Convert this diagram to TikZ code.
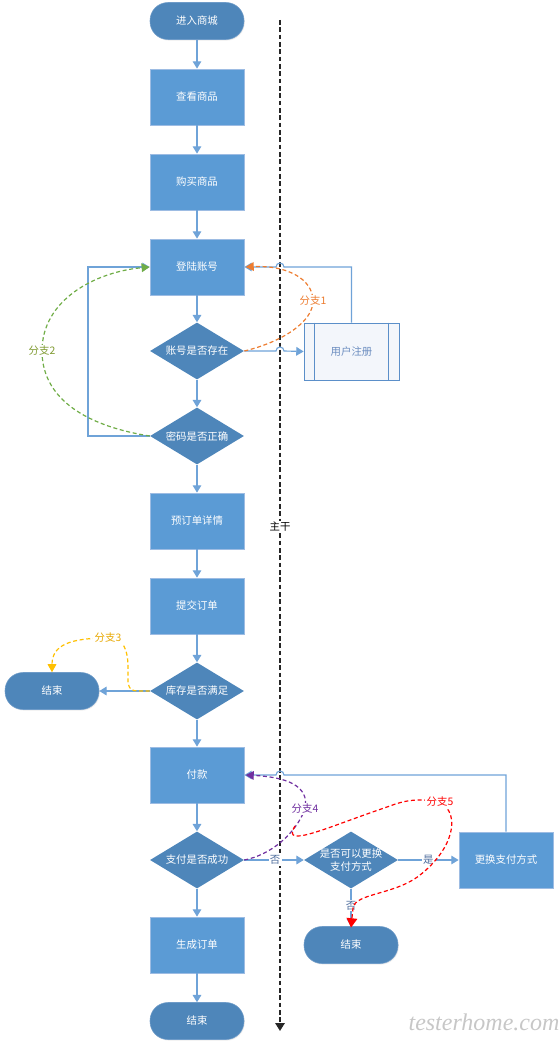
\documentclass[tikz,border=0pt]{standalone}
\usepackage{fontspec}
\setmainfont{Noto Sans CJK SC}
\newfontfamily\wmfont{Liberation Serif}
\usetikzlibrary{arrows.meta,shapes.geometric,shadows}
\definecolor{boxc}{HTML}{5B9BD5}
\definecolor{boxline}{HTML}{9DBCE3}
\definecolor{darkc}{HTML}{4E86BA}
\definecolor{darkline}{HTML}{6E9BC8}
\definecolor{linec}{HTML}{6FA3D8}
\definecolor{regtxt}{HTML}{6A8CBF}
\definecolor{regfill}{HTML}{F3F6FB}
\definecolor{regline}{HTML}{5B8FC9}
\definecolor{ylbl}{HTML}{4F6E9E}
\definecolor{c1}{HTML}{ED7D31}
\definecolor{c2}{HTML}{70AD47}
\definecolor{c2t}{HTML}{7F9A30}
\definecolor{c3}{HTML}{FFC000}
\definecolor{c3t}{HTML}{E8A800}
\definecolor{c4}{HTML}{7030A0}
\definecolor{c5}{HTML}{FF0000}
\tikzset{
  box/.style={rectangle, fill=boxc, draw=boxline, line width=0.6pt, minimum width=70.5pt, minimum height=42pt, text=white, inner sep=0pt,
    drop shadow={opacity=0.15, shadow xshift=0.6pt, shadow yshift=-0.8pt}},
  term/.style={rectangle, rounded corners=13.5pt, fill=darkc, draw=darkline, line width=0.4pt, minimum width=70.5pt, minimum height=27.75pt, text=white, inner sep=0pt,
    drop shadow={opacity=0.15, shadow xshift=0.6pt, shadow yshift=-0.8pt}},
  dia/.style={diamond, fill=darkc, minimum width=70.5pt, minimum height=42.75pt, inner sep=0pt},
  dtxt/.style={text=white, align=center, inner sep=0pt},
  flow/.style={draw=linec, line width=0.85pt, -{Triangle[width=6.5pt,length=5.5pt]}},
  brline/.style={line width=0.9pt, dash pattern=on 3pt off 2pt, -{Triangle[width=6.5pt,length=6pt]}},
  lbl/.style={fill=white, inner sep=1pt},
}
\begin{document}
\begin{tikzpicture}[x=0.75pt,y=-0.75pt, font=\fontsize{7.8}{9.5}\selectfont]
\useasboundingbox (0,0) rectangle (559,1048);

% main dashed line
\coordinate (mtop) at (280,20);
\coordinate (mbot) at (280,1031);
\draw[black!85, line width=1.5pt, dash pattern=on 3.5pt off 2pt, -{Triangle[width=7pt,length=6pt]}] (mtop) -- (mbot);

% nodes
\node[term] (n1) at (197,21) {进入商城};
\node[box] (n2) at (197,97) {查看商品};
\node[box] (n3) at (197,182) {购买商品};
\node[box] (n4) at (197,267) {登陆账号};
\node[dia] (d1) at (197,351) {};
\node[dtxt] at (d1) {账号是否存在};
\node[dia] (d2) at (197,436) {};
\node[dtxt] at (d2) {密码是否正确};
\node[box] (n5) at (197,521) {预订单详情};
\node[box] (n6) at (197,606) {提交订单};
\node[dia] (d3) at (197,691) {};
\node[dtxt] at (d3) {库存是否满足};
\node[term] (e1) at (52,691) {结束};
\node[box] (n7) at (197,775) {付款};
\node[dia] (d4) at (197,860) {};
\node[dtxt] at (d4) {支付是否成功};
\node[box] (n8) at (197,945) {生成订单};
\node[term] (e3) at (197,1021) {结束};

\node[rectangle, fill=regfill, draw=regline, line width=0.6pt, minimum width=71.25pt, minimum height=42.75pt, text=regtxt] (reg) at (351.5,351.5) {用户注册};
\draw[regline, line width=0.6pt] ([xshift=8.25pt]reg.north west) -- ([xshift=8.25pt]reg.south west)
  ([xshift=-8.25pt]reg.north east) -- ([xshift=-8.25pt]reg.south east);

\node[dia] (d5) at (351,860) {};
\node[dtxt] at (d5) {是否可以更换\\支付方式};
\node[box] (n9) at (506,860) {更换支付方式};
\node[term] (e2) at (351,945) {结束};

% flow connectors
\foreach \a/\b in {n1/n2, n2/n3, n3/n4, n4/d1, d1/d2, d2/n5, n5/n6, n6/d3, d3/n7, n7/d4, d4/n8, n8/e3}
  \draw[flow] (\a) -- (\b);
\draw[flow] (d3.west) -- (e1.east);
\draw[flow] (d2.west) -- (88,436) |- (n4.west);
\draw[flow] (d1.east) -- (276,351) arc[start angle=180, end angle=0, radius=3pt] -- (reg.west);
\draw[flow] (reg.north) |- (284,267) arc[start angle=0, end angle=180, radius=3pt] -- (n4.east);
\draw[flow] (d4.east) -- (d5.west) node[pos=0.52, lbl, text=ylbl] {否};
\draw[flow] (d5.east) -- (n9.west) node[pos=0.5, lbl, text=ylbl] {是};
\draw[flow] (d5.south) -- (e2.north) node[pos=0.45, lbl, text=ylbl] {否};
\draw[flow] (n9.north) |- (284,775) arc[start angle=0, end angle=180, radius=3pt] -- (n7.east);

% main label
\node[lbl, text=black] (mlbl) at (280,527) {主干};

% branches
\draw[brline, c1] (d1.east) .. controls (282,342) and (313,322) .. (313,301)
  node[lbl, text=c1] {分支1}
  .. controls (313,278) and (285,265) .. ([xshift=1pt]n4.east);
\draw[brline, c2] (d2.west) .. controls (80,425) and (42,395) .. (42,351)
  node[lbl, text=c2t] {分支2}
  .. controls (42,300) and (95,272) .. (n4.west);
\draw[brline, c3] (d3.west) -- (138,691) .. controls (126,691) and (128,682) .. (128,668)
  .. controls (128,650) and (124,638) .. (108,638)
  node[lbl, text=c3t] {分支3}
  .. controls (70,638) and (52,645) .. (e1.north);
\draw[brline, c4] (d4.east) .. controls (270,855) and (295,835) .. (305,809)
  node[lbl, text=c4] {分支4}
  .. controls (310,785) and (285,777) .. ([xshift=1pt]n7.east);
\coordinate (s5) at (295,826);
\draw[brline, c5, -{Triangle[width=8pt,length=7pt]}] (s5) .. controls (280,850) and (330,826) .. (390,806)
  .. controls (405,800) and (420,798) .. (440,802)
  node[lbl, text=c5] {分支5}
  .. controls (462,815) and (452,850) .. (420,875)
  .. controls (395,895) and (355,893) .. (353,908) -- ([yshift=-1pt]e2.north);

% watermark
\node[text=black!22, font=\wmfont\itshape\fontsize{18}{18}\selectfont] (wm) at (484,1022) {testerhome.com};
\end{tikzpicture}
\end{document}
